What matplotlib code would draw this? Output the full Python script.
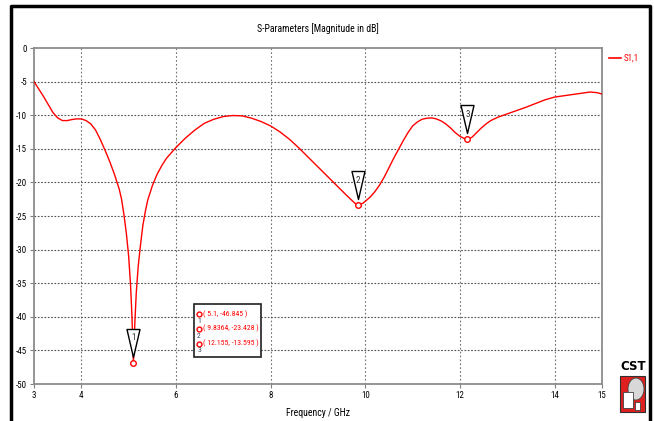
import numpy as np
import matplotlib
matplotlib.use('Agg')
import matplotlib.pyplot as plt
from matplotlib import font_manager
from matplotlib.path import Path
from matplotlib.patches import Rectangle, Ellipse
from matplotlib.lines import Line2D

# S1,1 magnitude
freq = [3.0, 3.1, 3.2, 3.3, 3.4, 3.5, 3.6, 3.7, 3.8, 3.9, 4.0, 4.1, 4.2, 4.3,
        4.4, 4.5, 4.6, 4.7, 4.8, 4.85, 4.9, 4.95, 5.0, 5.04, 5.07, 5.1, 5.13,
        5.16, 5.2, 5.25, 5.3, 5.35, 5.4, 5.5, 5.6, 5.7, 5.8, 5.9, 6.0, 6.2, 6.4,
        6.6, 6.8, 7.0, 7.2, 7.4, 7.6, 7.8, 8.0, 8.2, 8.4, 8.6, 8.8, 9.0, 9.2,
        9.4, 9.6, 9.75, 9.8364, 9.95, 10.1, 10.2, 10.3, 10.4, 10.5, 10.6, 10.7,
        10.8, 10.9, 11.0, 11.1, 11.2, 11.3, 11.4, 11.5, 11.6, 11.7, 11.8, 11.9,
        12.0, 12.1, 12.155, 12.25, 12.35, 12.45, 12.55, 12.65, 12.8, 13.0, 13.2,
        13.4, 13.6, 13.8, 14.0, 14.2, 14.4, 14.6, 14.75, 14.9, 15.0]
s11 = [-5.0, -6.1, -7.2, -8.4, -9.6, -10.4, -10.8, -10.8, -10.65, -10.55, -10.55,
       -10.8, -11.3, -12.2, -13.6, -15.2, -16.9, -18.8, -21.0, -22.5, -24.8, -27.5,
       -31.0, -35.3, -40.0, -46.845, -41.0, -36.5, -32.6, -29.3, -26.4, -24.4,
       -22.7, -20.5, -18.8, -17.5, -16.4, -15.6, -14.8, -13.4, -12.2, -11.2, -10.6,
       -10.2, -10.05, -10.1, -10.45, -10.95, -11.6, -12.5, -13.6, -14.9, -16.3,
       -17.7, -19.1, -20.5, -21.9, -22.9, -23.428, -23.1, -22.2, -21.4, -20.4,
       -19.2, -17.8, -16.4, -15.1, -13.8, -12.6, -11.6, -11.0, -10.6, -10.45,
       -10.4, -10.55, -10.85, -11.3, -11.9, -12.6, -13.15, -13.5, -13.595, -13.3,
       -12.6, -11.9, -11.3, -10.8, -10.3, -9.8, -9.3, -8.8, -8.25, -7.7, -7.3,
       -7.1, -6.9, -6.7, -6.55, -6.65, -6.85]

marker_f = [5.1, 9.8364, 12.155]
marker_db = [-46.845, -23.428, -13.595]
marker_txt = ['( 5.1, -46.845 )', '( 9.8364, -23.428 )', '( 12.155, -13.595 )']

xticks = [3, 4, 6, 8, 10, 12, 14, 15]
yticks = [0, -5, -10, -15, -20, -25, -30, -35, -40, -45, -50]

W, H = 654, 421


def pick_font():
    names = set(f.name for f in font_manager.fontManager.ttflist)
    for n in ['Liberation Sans Narrow', 'DejaVu Sans Condensed', 'Roboto Condensed', 'DejaVu Sans']:
        if n in names:
            return n
    return 'DejaVu Sans'


def fx(px):
    return px / W


def fy(py):
    return 1 - py / H


font = pick_font()
plt.rcParams['font.family'] = [font, 'DejaVu Sans']

fig = plt.figure(figsize=(W / 100, H / 100), dpi=100)
ax = fig.add_axes([fx(34), fy(384), fx(602) - fx(34), fy(48) - fy(384)])

ax.plot(freq, s11, color='#ff0000', lw=1.0, zorder=3)

ax.set_xlim(3, 15)
ax.set_ylim(-50, 0)
ax.set_xticks(xticks)
ax.set_yticks(yticks)
ax.set_xticklabels([str(t) for t in xticks])
ax.set_yticklabels([str(t) for t in yticks])
ax.tick_params(labelsize=6.5, length=3, width=0.8, color='#808080', pad=2)

for sp in ax.spines.values():
    sp.set_color('#8c8c8c')
    sp.set_linewidth(1.3)

for v in [4, 6, 8, 10, 12, 14]:
    ax.axvline(v, color='#707070', lw=0.8, ls=(0, (1.5, 2)), zorder=1)
for v in yticks[1:-1]:
    ax.axhline(v, color='#505050', lw=0.8, ls=(0, (1.5, 1.5)), zorder=1)

# marker flags: tall triangle above each point
tri = [(-6.5, 34), (6.5, 34), (0, 6), (-6.5, 34)]
tri_path = Path(tri, [Path.MOVETO, Path.LINETO, Path.LINETO, Path.CLOSEPOLY])
ms = 2 * 34 * 0.72
for i, (f, d) in enumerate(zip(marker_f, marker_db)):
    ax.plot([f], [d], marker=tri_path, markersize=ms, markerfacecolor='white',
            markeredgecolor='black', markeredgewidth=1.0, linestyle='none', zorder=5)
    ax.plot([f], [d], marker='o', markersize=4, markerfacecolor='white',
            markeredgecolor='#ff0000', markeredgewidth=1.0, linestyle='none', zorder=6)
    ax.annotate(str(i + 1), xy=(f, d), xytext=(0, 25 * 0.72), textcoords='offset points',
                ha='center', va='center', fontsize=6.5, color='#303030', zorder=7)

fig.text(fx(318), fy(29), 'S-Parameters [Magnitude in dB]', ha='center', va='center', fontsize=7)
fig.text(fx(318), fy(413), 'Frequency / GHz', ha='center', va='center', fontsize=7)

# marker table box
fig.patches.append(Rectangle((fx(193.5), fy(356.5)), fx(261) - fx(193.5), fy(304.5) - fy(356.5),
                             transform=fig.transFigure, facecolor='white', edgecolor='#202020',
                             lw=1.2, zorder=8))
for i, (row, t) in enumerate(zip([314, 328.5, 343.5], marker_txt)):
    fig.lines.append(Line2D([fx(199)], [fy(row)], marker='o', markersize=3.5, markerfacecolor='white',
                            markeredgecolor='#ff0000', markeredgewidth=1.0, transform=fig.transFigure,
                            zorder=9))
    fig.text(fx(199), fy(row + 7), str(i + 1), ha='center', va='center', fontsize=5.5,
             color='#404060', zorder=9)
    fig.text(fx(203), fy(row), t, ha='left', va='center', fontsize=5.6, color='#ff0000', zorder=9)

# legend outside the axes
fig.lines.append(Line2D([fx(609), fx(621)], [fy(58), fy(58)], color='#ff0000', lw=1.2,
                        transform=fig.transFigure))
fig.text(fx(624), fy(58), 'S1,1', ha='left', va='center', fontsize=6.5, color='#ff0000')

# CST logo
fig.text(fx(633), fy(366), 'CST', ha='center', va='center', fontsize=8.5, fontweight='bold',
         family='DejaVu Sans')
fig.patches.append(Rectangle((fx(620), fy(412)), fx(645) - fx(620), fy(376) - fy(412),
                             transform=fig.transFigure, facecolor='#e02020', edgecolor='#303030',
                             lw=0.8, zorder=2))
fig.patches.append(Ellipse((fx(636), fy(389)), fx(16) - fx(0), fy(0) - fy(22),
                           transform=fig.transFigure, facecolor='#d8d8d8', edgecolor='#404040',
                           lw=0.6, zorder=3))
fig.patches.append(Rectangle((fx(623), fy(408)), fx(10), fy(0) - fy(16),
                             transform=fig.transFigure, facecolor='white', edgecolor='#404040',
                             lw=0.6, zorder=4))
fig.patches.append(Rectangle((fx(635), fy(410)), fx(5), fy(0) - fy(8),
                             transform=fig.transFigure, facecolor='white', edgecolor='#404040',
                             lw=0.6, zorder=4))

# outer black frame (left, top, right)
fig.lines.append(Line2D([fx(11), fx(11), fx(650), fx(650)], [fy(425), fy(6), fy(6), fy(425)],
                        color='black', lw=2.5, transform=fig.transFigure))

fig.savefig('out.png', dpi=100)
